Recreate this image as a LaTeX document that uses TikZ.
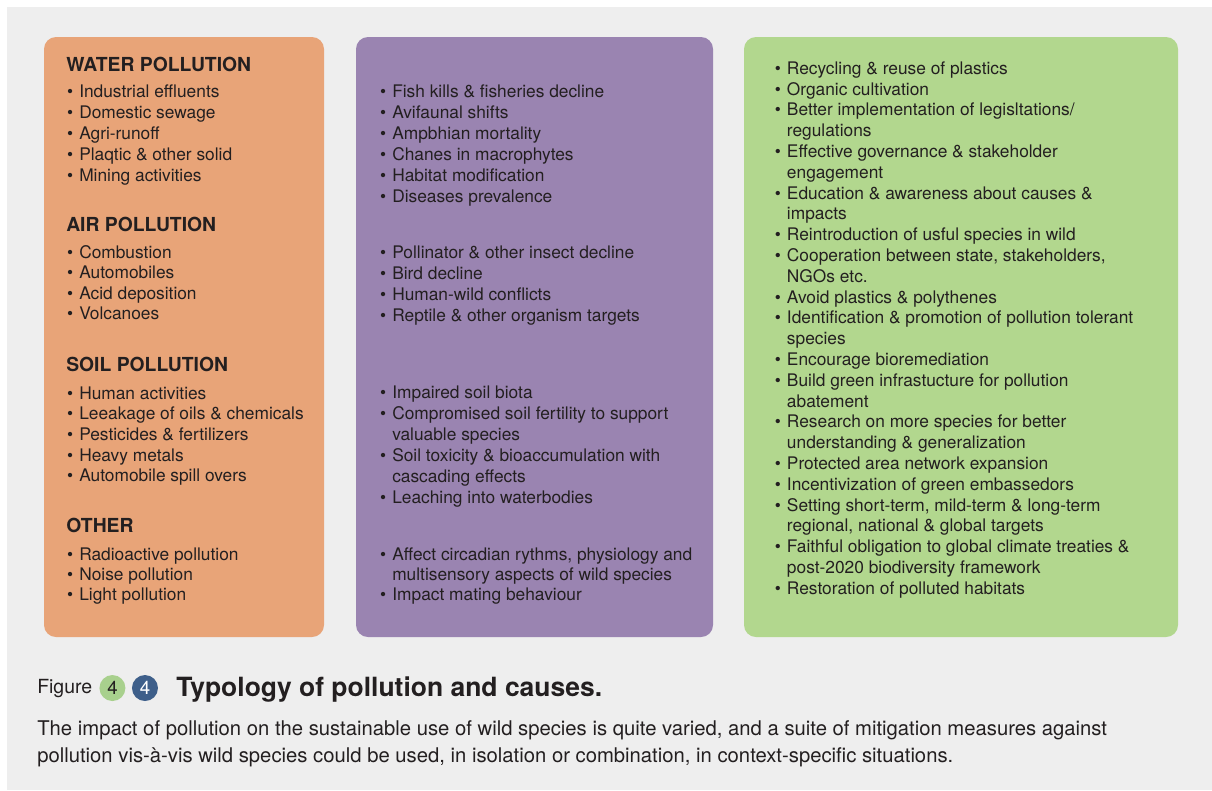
\documentclass[tikz,border=0pt]{standalone}
\usepackage{fontspec}
\setmainfont{TeX Gyre Heros}
\usepackage{xcolor}
\usepackage{tikz}
\usetikzlibrary{positioning}

\definecolor{bggray}{HTML}{EEEEEE}
\definecolor{causecol}{HTML}{E8A478}
\definecolor{impactcol}{HTML}{9A84B1}
\definecolor{measurecol}{HTML}{B2D78E}
\definecolor{numgreen}{HTML}{A8D08D}
\definecolor{numblue}{HTML}{3E5F8A}
\definecolor{ink}{HTML}{231F20}

\newcommand{\bul}{\llap{\textbullet\hspace{4.5pt}}}

\begin{document}
\begin{tikzpicture}[x=0.75pt, y=-0.75pt,
  panel/.style={rounded corners=9pt},
  head/.style={anchor=base west, inner sep=0pt, text=ink, font=\fontsize{14.5}{17}\selectfont\bfseries},
  itm/.style={anchor=base west, inner sep=0pt, text=ink, font=\fontsize{13}{15}\selectfont}]

% background and panels
\fill[white] (0,0) rectangle (1212,790);
\fill[bggray] (7,7) rectangle (1212,790);
\fill[causecol, panel] (44,37) rectangle (324,637);
\fill[impactcol, panel] (356,37) rectangle (713,637);
\fill[measurecol, panel] (744,37) rectangle (1178,637);

% causes
\node[head] (water) at (66,71) {WATER POLLUTION};
\foreach \t [count=\i from 0] in {Industrial effluents, Domestic sewage, Agri-runoff, Plaqtic \& other solid, Mining activities}
  \node[itm] (wat\i) at (79,97+21*\i) {\bul\t};
\node[head] (air) at (66,231) {AIR POLLUTION};
\foreach \t [count=\i from 0] in {Combustion, Automobiles, Acid deposition, Volcanoes}
  \node[itm] (air\i) at (79,258+20.5*\i) {\bul\t};
\node[head] (soil) at (66,371) {SOIL POLLUTION};
\foreach \t [count=\i from 0] in {Human activities, Leeakage of oils \& chemicals, Pesticides \& fertilizers, Heavy metals, Automobile spill overs}
  \node[itm] (soil\i) at (79,399+20.7*\i) {\bul\t};
\node[head] (other) at (66,532) {OTHER};
\foreach \t [count=\i from 0] in {Radioactive pollution, Noise pollution, Light pollution}
  \node[itm] (oth\i) at (79,560+20.4*\i) {\bul\t};

% impacts
\foreach \t [count=\i from 0] in {\bul Fish kills \& fisheries decline, \bul Avifaunal shifts, \bul Ampbhian mortality,
    \bul Chanes in macrophytes, \bul Habitat modification, \bul Diseases prevalence}
  \node[itm] (fish\i) at (392,97+21*\i) {\t};
\foreach \t [count=\i from 0] in {\bul Pollinator \& other insect decline, \bul Bird decline,
    \bul Human-wild conflicts, \bul Reptile \& other organism targets}
  \node[itm] (bird\i) at (392,258+21*\i) {\t};
\foreach \t [count=\i from 0] in {\bul Impaired soil biota, \bul Compromised soil fertility to support, valuable species,
    \bul Soil toxicity \& bioaccumulation with, cascading effects, \bul Leaching into waterbodies}
  \node[itm] (biota\i) at (392,398+21*\i) {\t};
\foreach \t [count=\i from 0] in {{\bul Affect circadian rythms, physiology and}, multisensory aspects of wild species,
    \bul Impact mating behaviour}
  \node[itm] (rhythm\i) at (392,560+20.4*\i) {\t};

% measures
\foreach \t [count=\i from 0] in {\bul Recycling \& reuse of plastics, \bul Organic cultivation,
    \bul Better implementation of legisltations/, regulations,
    \bul Effective governance \& stakeholder, engagement,
    \bul Education \& awareness about causes \&, impacts,
    \bul Reintroduction of usful species in wild,
    {\bul Cooperation between state, stakeholders,}, NGOs etc.,
    \bul Avoid plastics \& polythenes,
    \bul Identification \& promotion of pollution tolerant, species,
    \bul Encourage bioremediation,
    \bul Build green infrastucture for pollution, abatement,
    \bul Research on more species for better, understanding \& generalization,
    \bul Protected area network expansion,
    \bul Incentivization of green embassedors,
    {\bul Setting short-term, mild-term \& long-term}, {regional, national \& global targets},
    \bul Faithful obligation to global climate treaties \&, post-2020 biodiversity framework,
    \bul Restoration of polluted habitats}
  \node[itm] (meas\i) at (786.7,74.3+20.8*\i) {\t};

% caption
\node[anchor=base west, inner sep=0pt, text=ink, font=\fontsize{14.6}{17}\selectfont] (fig) at (37,693) {Figure};
\node[circle, fill=numgreen, minimum size=19.5pt, inner sep=0pt, text=ink,
  font=\fontsize{14}{16}\selectfont, right=5pt of fig] (numa) {4};
\node[circle, fill=numblue, minimum size=19.5pt, inner sep=0pt, text=white,
  font=\fontsize{14}{16}\selectfont, right=4.5pt of numa] (numb) {4};
\node[anchor=base west, inner sep=0pt, text=ink, font=\fontsize{19.85}{23}\selectfont\bfseries] (title)
  at (176,696.5) {Typology of pollution and causes.};
\node[anchor=base west, inner sep=0pt, text=ink, font=\fontsize{15.2}{18}\selectfont] (capa) at (37,735.5)
  {The impact of pollution on the sustainable use of wild species is quite varied, and a suite of mitigation measures against};
\node[anchor=base west, inner sep=0pt, text=ink, font=\fontsize{15.2}{18}\selectfont] (capb) at (37,762)
  {pollution vis-à-vis wild species could be used, in isolation or combination, in context-specific situations.};
\end{tikzpicture}
\end{document}
